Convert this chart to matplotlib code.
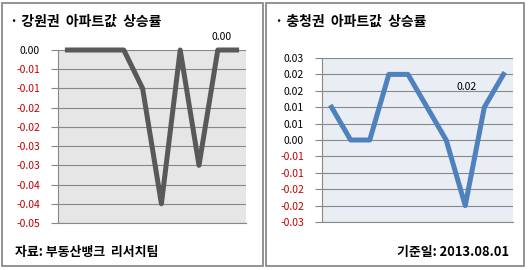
import numpy as np
import matplotlib.pyplot as plt
from matplotlib.patches import Rectangle

plt.rcParams['font.family'] = ['Noto Sans CJK KR', 'DejaVu Sans']

# 강원권 (left panel)
gw_values = [0.0, 0.0, 0.0, 0.0, -0.01, -0.04, 0.0, -0.03, 0.0, 0.0]
gw_ticks = [0.0, -0.005, -0.01, -0.015, -0.02, -0.025, -0.03, -0.035, -0.04, -0.045]
gw_tick_labels = ['0.00', '-0.01', '-0.01', '-0.02', '-0.02', '-0.03', '-0.03', '-0.04', '-0.04', '-0.05']
gw_title = '· 강원권  아파트값  상승률'
gw_note = '자료: 부동산뱅크  리서치팀'

# 충청권 (right panel)
cc_values = [0.01, 0.0, 0.0, 0.02, 0.02, 0.01, 0.0, -0.02, 0.01, 0.02]
cc_ticks = [0.025, 0.02, 0.015, 0.01, 0.005, 0.0, -0.005, -0.01, -0.015, -0.02, -0.025]
cc_tick_labels = ['0.03', '0.02', '0.02', '0.01', '0.01', '0.00', '-0.01', '-0.01', '-0.02', '-0.02', '-0.03']
cc_title = '· 충청권  아파트값  상승률'
cc_note = '기준일: 2013.08.01'

W, H = 529, 270


def fx(px):
    return px / W


def fy(py):
    return 1 - py / H


def style_axes(ax, ticks, labels, bg):
    ax.set_facecolor(bg)
    ax.set_xlim(-0.5, 9.5)
    ax.set_ylim(min(ticks), max(ticks))
    ax.set_yticks(ticks)
    ax.set_yticklabels(labels)
    for lab, t in zip(ax.get_yticklabels(), ticks):
        lab.set_color('#C00000' if t < -1e-9 else 'black')
    ax.set_xticks([])
    ax.tick_params(axis='y', length=5, width=0.8, color='#888888', pad=8, labelsize=7.5)
    ax.grid(axis='y', color='#888888', linewidth=0.8)
    ax.set_axisbelow(True)
    for s in ['top', 'right']:
        ax.spines[s].set_visible(False)
    for s in ['left', 'bottom']:
        ax.spines[s].set_color('#888888')
        ax.spines[s].set_linewidth(0.8)


def main():
    fig = plt.figure(figsize=(W / 100, H / 100), dpi=100)

    # panel frames
    for x0, x1 in [(2, 263), (266, 524)]:
        fig.patches.append(Rectangle((fx(x0), fy(266)), fx(x1) - fx(x0), fy(3) - fy(266),
                                     transform=fig.transFigure, fill=False,
                                     edgecolor='#808080', linewidth=1.2))

    x = np.arange(len(gw_values))

    ax1 = fig.add_axes([fx(58), fy(223), fx(246) - fx(58), fy(50) - fy(223)])
    style_axes(ax1, gw_ticks, gw_tick_labels, '#E6E6E6')
    ax1.plot(x, gw_values, color='#595959', linewidth=3.6, solid_joinstyle='round', clip_on=False)
    ax1.text(x[8] + 0.2, gw_values[8] + 0.0033, '0.00', ha='center', va='center', fontsize=7.5)

    ax2 = fig.add_axes([fx(322), fy(222), fx(513) - fx(322), fy(58) - fy(222)])
    style_axes(ax2, cc_ticks, cc_tick_labels, '#E9EDF4')
    ax2.plot(x, cc_values, color='#4F81BD', linewidth=3.6, solid_joinstyle='round', clip_on=False)
    ax2.text(x[7] + 0.05, 0.0162, '0.02', ha='center', va='center', fontsize=7.5)

    fig.text(fx(10), fy(22), gw_title, ha='left', va='center', fontsize=10, weight='bold')
    fig.text(fx(275), fy(22), cc_title, ha='left', va='center', fontsize=10, weight='bold')
    fig.text(fx(15), fy(252), gw_note, ha='left', va='center', fontsize=9.3, weight='bold')
    fig.text(fx(509), fy(252), cc_note, ha='right', va='center', fontsize=9.3, weight='bold')

    fig.savefig('out.png', dpi=100)


if __name__ == '__main__':
    main()
